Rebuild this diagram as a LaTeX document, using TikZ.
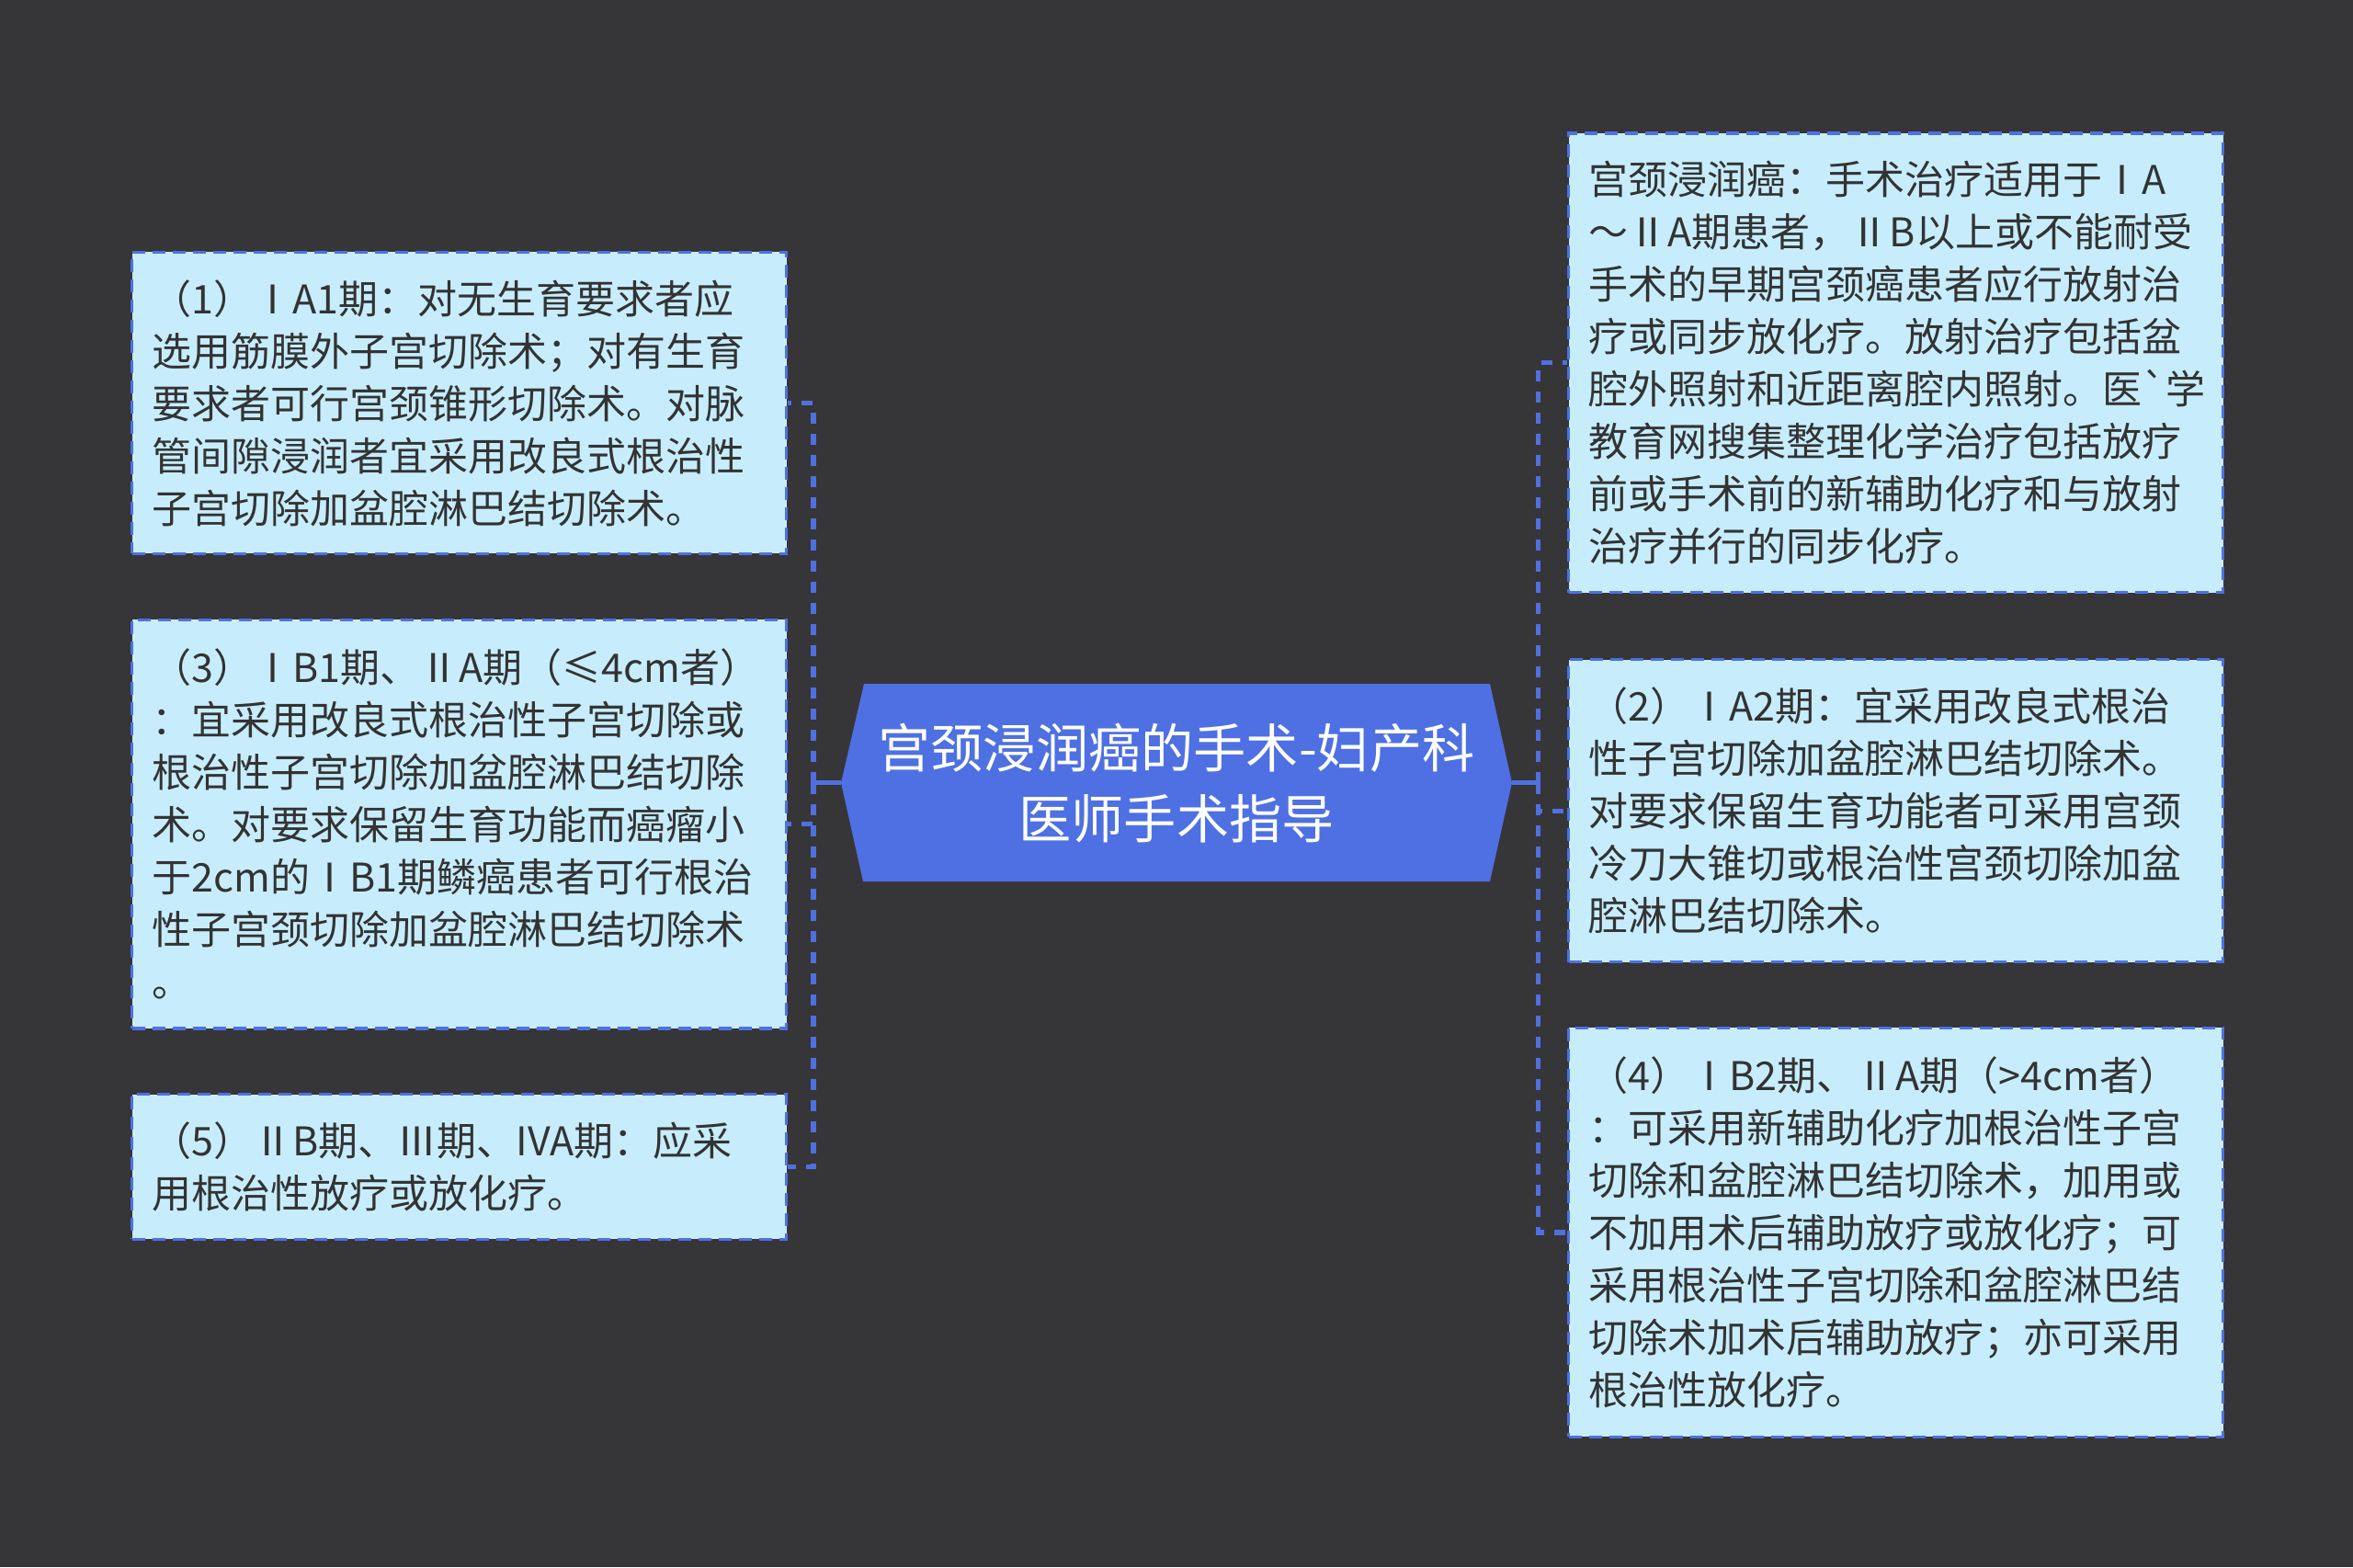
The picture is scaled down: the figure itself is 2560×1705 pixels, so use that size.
\documentclass[tikz,border=0pt]{standalone}
\usepackage{fontspec}
\newfontfamily\cjk[Ligatures=TeXOff]{Noto Sans CJK SC}
\usetikzlibrary{calc}
\definecolor{bg}{RGB}{54,53,56}
\definecolor{boxfill}{RGB}{199,237,253}
\definecolor{boxline}{RGB}{79,112,224}
\definecolor{titlefill}{RGB}{78,112,226}
\definecolor{txt}{RGB}{51,51,51}
\begin{document}
\begin{tikzpicture}[x=0.25pt,y=-0.25pt,
  leaf/.style={rectangle, draw=boxline, fill=boxfill, line width=0.85pt,
    dash pattern=on 3.5pt off 2pt, inner xsep=5.5pt, inner ysep=0pt,
    text width=167pt, minimum width=178pt, align=left, anchor=north west,
    font=\cjk\fontsize{10.75pt}{14.25pt}\selectfont, text=txt},
  titletext/.style={align=center, text=white, inner sep=0pt,
    font=\cjk\fontsize{14.3pt}{19.25pt}\selectfont},
  conn/.style={draw=boxline, line width=1.3pt, dash pattern=on 3pt off 2.75pt},
  connsolid/.style={draw=boxline, line width=1.3pt}]
\useasboundingbox[fill=bg] (0,0) rectangle (2560,1705);

% central topic
\coordinate (cL) at (915,851.7);
\coordinate (cR) at (1645,851.7);
\fill[titlefill] (940,744) -- (1621,744) -- (cR) -- (1621,959) -- (939,959) -- (cL) -- cycle;
\node[titletext] (c) at (1280,851.7) {宫颈浸润癌的手术-妇产科\\医师手术指导};

% leaves
\node[leaf, minimum height=82pt] (b1) at (142,272.7) {（1）ⅠA1期：对无生育要求者应\\选用筋膜外子宫切除术；对有生育\\要求者可行宫颈锥形切除术。对脉\\管间隙浸润者宜采用改良式根治性\\子宫切除加盆腔淋巴结切除术。};
\node[leaf, minimum height=111.1pt] (b3) at (142,672.7) {（3）ⅠB1期、ⅡA期（≤4cm者）\\：宜采用改良式根治性子宫切除或\\根治性子宫切除加盆腔淋巴结切除\\术。对要求保留生育功能而癌瘤小\\于2cm的ⅠB1期鳞癌患者可行根治\\性子宫颈切除加盆腔淋巴结切除术\\。};
\node[leaf, minimum height=39.4pt] (b5) at (142,1189) {（5）ⅡB期、Ⅲ期、IVA期：应采\\用根治性放疗或放化疗。};
\node[leaf, minimum height=124.9pt] (rA) at (1705,143.3) {宫颈浸润癌：手术治疗适用于ⅠA\\～ⅡA期患者，ⅡB以上或不能耐受\\手术的早期宫颈癌患者应行放射治\\疗或同步放化疗。放射治疗包括盆\\腔外照射和近距离腔内照射。医\char96 学\\教育网搜集整理化学治疗包括放疗\\前或手术前的新辅助化疗和与放射\\治疗并行的同步化疗。};
\node[leaf, minimum height=82.25pt] (r2) at (1705,716) {（2）ⅠA2期：宜采用改良式根治\\性子宫切除加盆腔淋巴结切除术。\\对要求保留生育功能者可采用宫颈\\冷刀大锥切或根治性宫颈切除加盆\\腔淋巴结切除术。};
\node[leaf, minimum height=111.25pt] (r4) at (1705,1116.7) {（4）ⅠB2期、ⅡA期（>4cm者）\\：可采用新辅助化疗加根治性子宫\\切除和盆腔淋巴结切除术，加用或\\不加用术后辅助放疗或放化疗；可\\采用根治性子宫切除和盆腔淋巴结\\切除术加术后辅助放疗；亦可采用\\根治性放化疗。};

% connectors
\coordinate (jl) at (885,851.7);
\coordinate (jr) at (1673.8,851.7);
\draw[connsolid] (cL) -- (jl);
\draw[connsolid] (cR) -- (jr);
\draw[conn] (jl) |- (b1.east);
\draw[conn] (jl) |- (b3.east);
\draw[conn] (jl) |- (b5.east);
\draw[conn] (jr) |- (rA.west);
\draw[conn] (jr) |- (r2.west);
\draw[conn] (jr) |- (r4.west);
\end{tikzpicture}
\end{document}
